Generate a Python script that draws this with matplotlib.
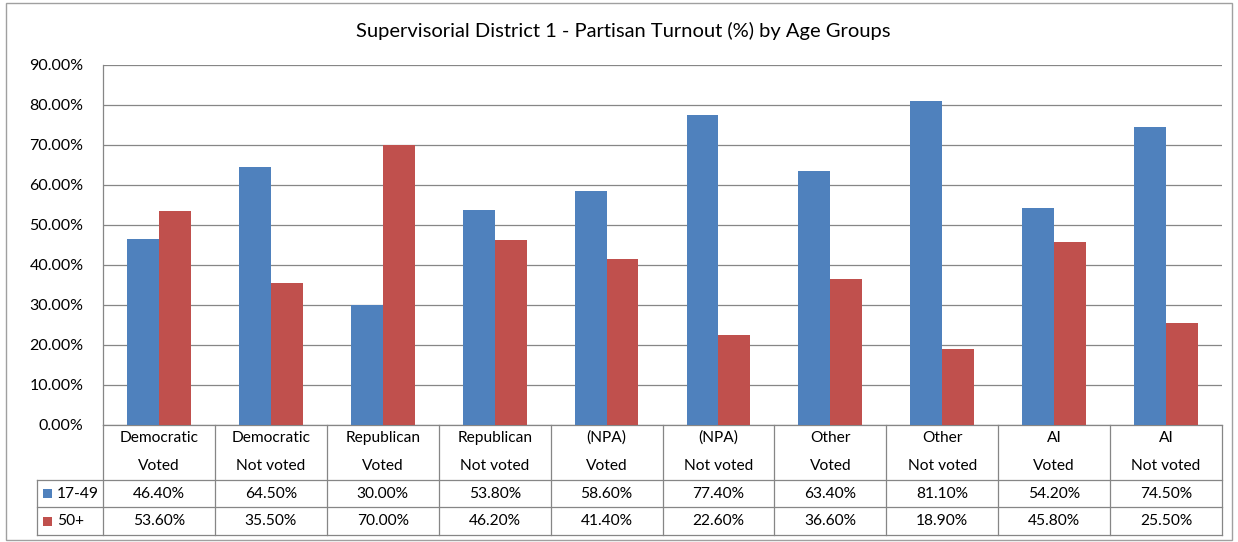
import matplotlib.pyplot as plt
import matplotlib.patches as patches
import matplotlib.transforms as mtransforms
import numpy as np

# Data
parties = ["Democratic", "Democratic", "Republican", "Republican", "(NPA)",
           "(NPA)", "Other", "Other", "AI", "AI"]
status = ["Voted", "Not voted", "Voted", "Not voted", "Voted",
          "Not voted", "Voted", "Not voted", "Voted", "Not voted"]
age_17_49 = [46.4, 64.5, 30.0, 53.8, 58.6, 77.4, 63.4, 81.1, 54.2, 74.5]
age_50_plus = [53.6, 35.5, 70.0, 46.2, 41.4, 22.6, 36.6, 18.9, 45.8, 25.5]
series_names = ["17-49", "50+"]
y_ticks = [0, 10, 20, 30, 40, 50, 60, 70, 80, 90]

colors = {'blue': '#4F81BD', 'red': '#C0504D', 'grid': '#868686',
          'border': '#A0A0A0', 'text': '#000000'}
plt.rcParams['font.family'] = ['Lato', 'DejaVu Sans']

W, H = 1238, 542
fig = plt.figure(figsize=(W / 100, H / 100), dpi=100)

# plot area in pixels
left, right, top, bottom = 103, 1222, 65, 425
ax = fig.add_axes([left / W, 1 - bottom / H, (right - left) / W, (bottom - top) / H])

x = np.arange(len(age_17_49))
bw = 0.285
ax.bar(x - bw / 2, age_17_49, width=bw, color=colors['blue'], zorder=3)
ax.bar(x + bw / 2, age_50_plus, width=bw, color=colors['red'], zorder=3)

ax.set_xlim(-0.5, len(x) - 0.5)
ax.set_ylim(0, 90)
ax.set_yticks(y_ticks)
ax.set_yticklabels([f"{v:.2f}%" for v in y_ticks], fontsize=11.5)
ax.set_xticks([])
ax.tick_params(axis='y', length=0, pad=14)
ax.grid(axis='y', color=colors['grid'], linewidth=0.9, zorder=0)
for s in ['top', 'right', 'bottom']:
    ax.spines[s].set_visible(False)
ax.spines['left'].set_color(colors['grid'])
ax.spines['left'].set_linewidth(0.9)

# title
fig.text(623 / W, 1 - 31 / H,
         "Supervisorial District 1 - Partisan Turnout (%) by Age Groups",
         ha='center', va='center', fontsize=14.5)

# data table below the axes (x in data units, y in axes fraction)
trans = mtransforms.blended_transform_factory(ax.transData, ax.transAxes)
ph = bottom - top
y_hdr = -(480 - bottom) / ph
y_r1 = -(507 - bottom) / ph
y_r2 = -(535 - bottom) / ph
x_leg = -0.5 - (left - 37) / ((right - left) / len(x))
x_end = len(x) - 0.5
line_kw = dict(color=colors['grid'], linewidth=0.9, transform=trans, clip_on=False)

ax.plot([-0.5, x_end], [0, 0], **line_kw)
for yy in [y_hdr, y_r1, y_r2]:
    ax.plot([x_leg, x_end], [yy, yy], **line_kw)
for i in range(len(x) + 1):
    ax.plot([i - 0.5, i - 0.5], [0, y_r2], **line_kw)
ax.plot([x_leg, x_leg], [y_hdr, y_r2], **line_kw)

for i in x:
    ax.text(i, -(438 - bottom) / ph, parties[i], transform=trans, ha='center',
            va='center', fontsize=11.2)
    ax.text(i, -(466 - bottom) / ph, status[i], transform=trans, ha='center',
            va='center', fontsize=11.2)
    ax.text(i, (y_hdr + y_r1) / 2, f"{age_17_49[i]:.2f}%", transform=trans,
            ha='center', va='center', fontsize=11.2)
    ax.text(i, (y_r1 + y_r2) / 2, f"{age_50_plus[i]:.2f}%", transform=trans,
            ha='center', va='center', fontsize=11.2)

# legend keys inside the table
for name, col, (y0, y1) in zip(series_names, [colors['blue'], colors['red']],
                               [(y_hdr, y_r1), (y_r1, y_r2)]):
    yc = (y0 + y1) / 2
    fig_y = 1 - (bottom + (-yc) * ph) / H
    fig.patches.append(patches.Rectangle((43 / W, fig_y - 4.5 / H), 9 / W, 9 / H,
                                         facecolor=col, edgecolor='none',
                                         transform=fig.transFigure))
    fig.text(57 / W, fig_y, name, ha='left', va='center', fontsize=11.2)

# outer chart border
fig.patches.append(patches.Rectangle((6 / W, 2 / H), (W - 12) / W, (H - 5) / H,
                                     facecolor='none', edgecolor=colors['border'],
                                     linewidth=1.0, transform=fig.transFigure))

fig.savefig("out.png", dpi=100, facecolor='white')
